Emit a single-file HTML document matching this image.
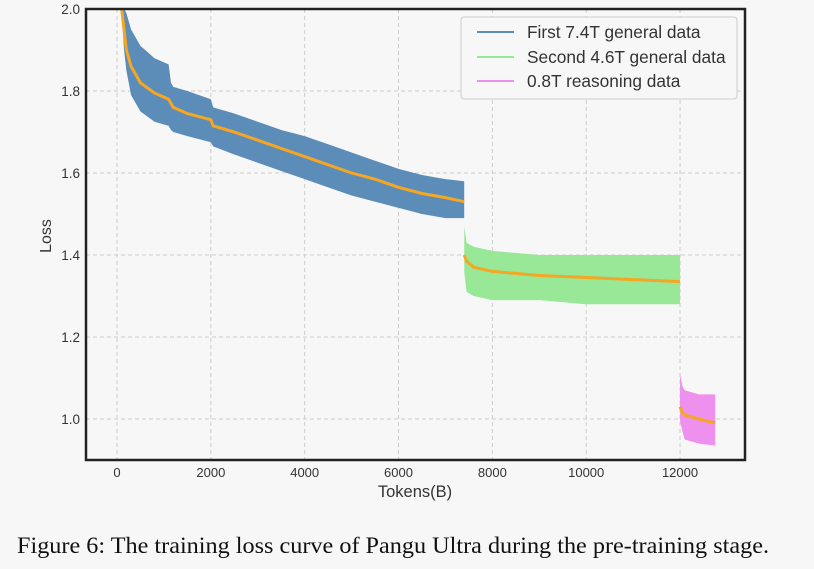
<!DOCTYPE html>
<html><head><meta charset="utf-8"><style>
html,body{margin:0;padding:0;background:#f7f7f7;width:814px;height:569px;overflow:hidden}
svg text{font-family:"Liberation Sans",sans-serif;fill:#333}
</style></head><body>
<svg id="chart" width="814" height="569" xmlns="http://www.w3.org/2000/svg">
<rect x="0" y="0" width="814" height="569" fill="#f7f7f7"/>
<g id="grid"></g>
<g id="series"></g>
<rect x="86" y="9" width="659" height="451" fill="none" stroke="#222" stroke-width="2.5"/>
<g id="ticks"></g>
<text x="415" y="497" font-size="16.5" text-anchor="middle">Tokens(B)</text>
<text x="51" y="236" font-size="16" text-anchor="middle" transform="rotate(-90 51 236)">Loss</text>
<g>
<rect x="461" y="17" width="276" height="82" rx="3" fill="#f7f7f7" stroke="#ccc"/>
<line x1="477" y1="32" x2="514" y2="32" stroke="#5b8db8" stroke-width="2"/>
<text x="527" y="38" font-size="17.3">First 7.4T general data</text>
<line x1="477" y1="57" x2="514" y2="57" stroke="#98e898" stroke-width="2"/>
<text x="527" y="63" font-size="17.3">Second 4.6T general data</text>
<line x1="477" y1="81" x2="514" y2="81" stroke="#ee90ee" stroke-width="2"/>
<text x="527" y="87" font-size="17.3">0.8T reasoning data</text>
</g>
<text x="17" y="553" font-size="23" textLength="752" lengthAdjust="spacingAndGlyphs" style="font-family:'Liberation Serif',serif;fill:#111">Figure 6: The training loss curve of Pangu Ultra during the pre-training stage.</text>
</svg>
<script>
const xTicks=[0,2000,4000,6000,8000,10000,12000];
const yTicks=[1.0,1.2,1.4,1.6,1.8,2.0];
// segment 1: first 7.4T
const s1x=[100,150,200,300,500,800,1100,1150,1200,1500,2000,2050,2500,3000,3500,4000,4500,5000,5500,6000,6500,7000,7400];
const s1mean=[2.0,1.95,1.9,1.86,1.82,1.795,1.78,1.77,1.76,1.745,1.73,1.715,1.70,1.68,1.66,1.64,1.62,1.60,1.585,1.565,1.55,1.54,1.53];
const s1up=[2.0,2.0,1.99,1.95,1.91,1.88,1.865,1.82,1.81,1.80,1.78,1.76,1.745,1.725,1.705,1.69,1.67,1.65,1.63,1.61,1.595,1.585,1.58];
const s1lo=[1.99,1.90,1.85,1.79,1.75,1.725,1.715,1.705,1.70,1.69,1.675,1.665,1.645,1.625,1.605,1.585,1.565,1.545,1.53,1.515,1.50,1.49,1.49];
// segment 2: second 4.6T
const s2x=[7400,7450,7600,8000,9000,10000,11000,12000];
const s2mean=[1.40,1.385,1.37,1.36,1.35,1.345,1.34,1.335];
const s2up=[1.47,1.43,1.42,1.41,1.40,1.40,1.40,1.40];
const s2lo=[1.36,1.31,1.30,1.29,1.29,1.28,1.28,1.28];
// segment 3: reasoning
const s3x=[12000,12050,12100,12400,12750];
const s3mean=[1.03,1.015,1.01,1.0,0.99];
const s3up=[1.11,1.08,1.07,1.06,1.06];
const s3lo=[0.995,0.97,0.95,0.94,0.935];
const X=v=>117+v*0.04692, Y=v=>9+(2.0-v)*410;
const NS="http://www.w3.org/2000/svg";
const mk=(t,a,p)=>{const e=document.createElementNS(NS,t);for(const k in a)e.setAttribute(k,a[k]);p.appendChild(e);return e;};
const grid=document.getElementById('grid'),ticks=document.getElementById('ticks'),ser=document.getElementById('series');
xTicks.forEach(t=>{
 const g=mk('line',{x1:X(t),x2:X(t),y1:9,y2:460,stroke:'#ccc','stroke-dasharray':'4,3'},grid);
 
 
 const l=mk('text',{x:X(t),y:477,'font-size':13,'text-anchor':'middle'},ticks);l.textContent=t;
 
 
});
yTicks.forEach(t=>{
 const g=mk('line',{x1:86,x2:745,y1:Y(t),y2:Y(t),stroke:'#ccc','stroke-dasharray':'4,3'},grid);
 
 
 const l=mk('text',{x:80,y:Y(t)+5,'font-size':13.5,'text-anchor':'end'},ticks);l.textContent=t.toFixed(1);
 
 
});
function seg(xs,up,lo,mean,col,name){
 let d='M'+xs.map((x,i)=>X(x)+','+Y(up[i])).join('L');
 for(let i=xs.length-1;i>=0;i--)d+='L'+X(xs[i])+','+Y(lo[i]);
 const b=mk('path',{d:d+'Z',fill:col},ser);
 
 
 const m=mk('polyline',{points:xs.map((x,i)=>X(x)+','+Y(mean[i])).join(' '),fill:'none',stroke:'#f5a623','stroke-width':3},ser);
 
 
}
seg(s1x,s1up,s1lo,s1mean,'#5b8db8','first-7-4t');
seg(s2x,s2up,s2lo,s2mean,'#98e898','second-4-6t');
seg(s3x,s3up,s3lo,s3mean,'#ee90ee','reasoning');
</script>
</body></html>
